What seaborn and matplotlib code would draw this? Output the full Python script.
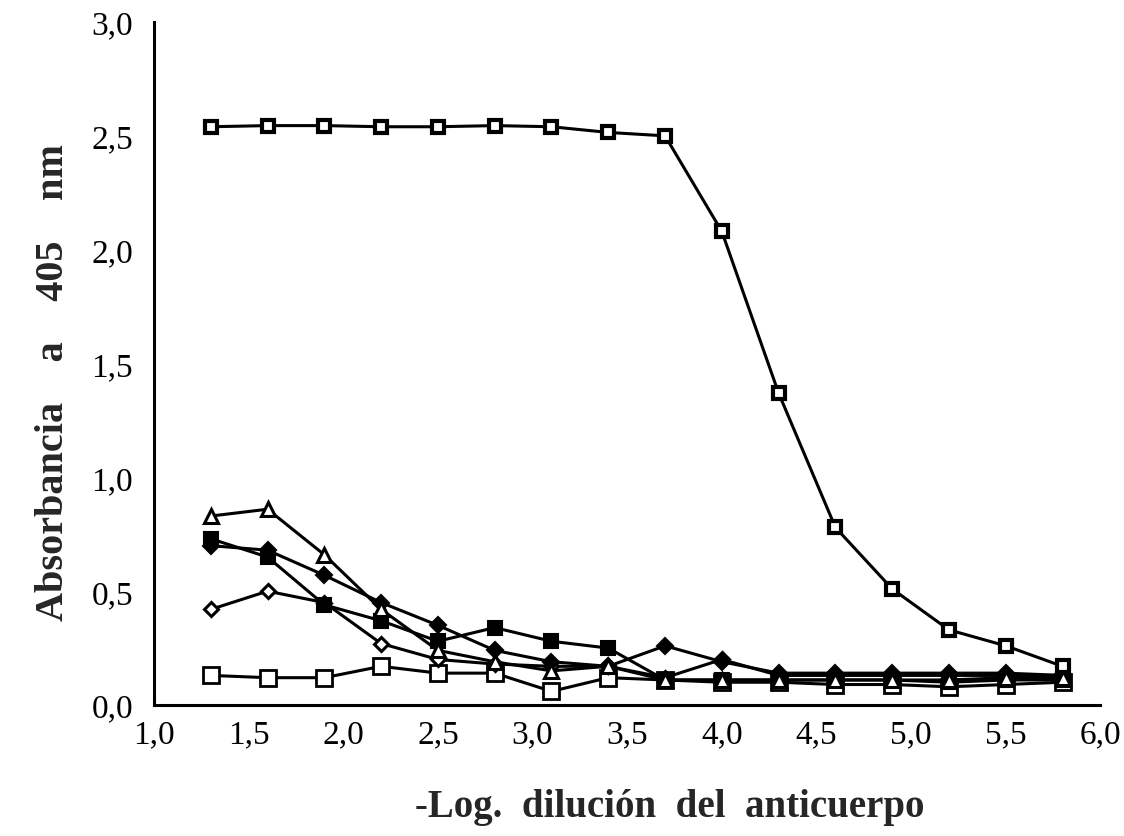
import matplotlib
matplotlib.use("Agg")
import matplotlib.pyplot as plt
import seaborn as sns
import pandas as pd
from matplotlib.ticker import MultipleLocator, FixedLocator

# -log dilution of the antibody
log_dil = [1.3, 1.6, 1.9, 2.2, 2.5, 2.8, 3.1, 3.4, 3.7, 4.0, 4.3, 4.6, 4.9, 5.2, 5.5, 5.8]

# absorbance at 405 nm for each serum
abs_dotted_sq = [2.54, 2.545, 2.545, 2.54, 2.54, 2.545, 2.54, 2.515, 2.50, 2.08, 1.37, 0.78, 0.51, 0.33, 0.26, 0.17]
abs_triangle = [0.83, 0.86, 0.66, 0.42, 0.24, 0.19, 0.15, 0.17, 0.11, 0.11, 0.11, 0.11, 0.11, 0.11, 0.12, 0.12]
abs_filled_sq = [0.73, 0.65, 0.44, 0.37, 0.28, 0.34, 0.28, 0.25, 0.11, 0.11, 0.11, 0.11, 0.11, 0.10, 0.11, 0.11]
abs_filled_dm = [0.70, 0.68, 0.57, 0.45, 0.35, 0.24, 0.19, 0.17, 0.26, 0.19, 0.14, 0.14, 0.14, 0.14, 0.14, 0.13]
abs_open_dm = [0.42, 0.50, 0.45, 0.27, 0.20, 0.18, 0.17, 0.17, 0.12, 0.20, 0.13, 0.13, 0.13, 0.13, 0.13, 0.13]
abs_open_sq = [0.13, 0.12, 0.12, 0.17, 0.14, 0.14, 0.06, 0.12, 0.11, 0.10, 0.10, 0.09, 0.09, 0.08, 0.09, 0.10]

x_ticks = [1.0, 1.5, 2.0, 2.5, 3.0, 3.5, 4.0, 4.5, 5.0, 5.5, 6.0]
x_labels = ["1,0", "1,5", "2,0", "2,5", "3,0", "3,5", "4,0", "4,5", "5,0", "5,5", "6,0"]
y_ticks = [0.0, 0.5, 1.0, 1.5, 2.0, 2.5, 3.0]
y_labels = ["0,0", "0,5", "1,0", "1,5", "2,0", "2,5", "3,0"]

sns.set_style("white")
plt.rcParams["font.family"] = ["Liberation Serif", "DejaVu Serif"]

fig = plt.figure(figsize=(11.24, 8.37), dpi=100)
ax = fig.add_axes([0.137, 0.1565, 0.842, 0.816])

series = [
    (abs_open_sq, dict(marker="s", markersize=12, markerfacecolor="white", markeredgewidth=2.0)),
    (abs_open_dm, dict(marker="D", markersize=7.5, markerfacecolor="white", markeredgewidth=2.2)),
    (abs_filled_dm, dict(marker="D", markersize=8, markerfacecolor="black", markeredgewidth=1.5)),
    (abs_filled_sq, dict(marker="s", markersize=10, markerfacecolor="black", markeredgewidth=1.5)),
    (abs_triangle, dict(marker="^", markersize=10, markerfacecolor="white", markeredgewidth=2.2)),
    (abs_dotted_sq, dict(marker="s", markersize=9, markerfacecolor="white", markeredgewidth=3.0)),
]

for vals, style in series:
    df = pd.DataFrame({"x": log_dil, "y": vals})
    sns.lineplot(data=df, x="x", y="y", ax=ax, color="black", linewidth=2.2,
                 markeredgecolor="black", estimator=None, sort=False, **style)

ax.set_xlim(1.0, 6.0)
ax.set_ylim(0.0, 3.0)
ax.xaxis.set_major_locator(FixedLocator(x_ticks))
ax.set_xticklabels(x_labels)
ax.xaxis.set_minor_locator(MultipleLocator(0.25))
ax.yaxis.set_major_locator(FixedLocator(y_ticks))
ax.set_yticklabels(y_labels)
ax.yaxis.set_minor_locator(MultipleLocator(0.25))

for side in ("top", "right"):
    ax.spines[side].set_visible(False)
for side in ("left", "bottom"):
    ax.spines[side].set_linewidth(2.2)
    ax.spines[side].set_color("black")

ax.tick_params(axis="both", which="major", direction="in", length=9, width=2,
               colors="black", labelsize=24, pad=10)
ax.tick_params(axis="both", which="minor", direction="in", length=5, width=2, colors="black")
ax.tick_params(axis="y", which="major", pad=15)

ax.set_xlabel("-Log.  dilución  del  anticuerpo", fontsize=28, fontweight="bold")
ax.xaxis.set_label_coords(0.545, -0.122)
ax.set_ylabel("Absorbancia    a    405    nm", fontsize=29, fontweight="bold")
ax.yaxis.set_label_coords(-0.087, 0.473)

fig.savefig("out.png", dpi=100, facecolor="white")
